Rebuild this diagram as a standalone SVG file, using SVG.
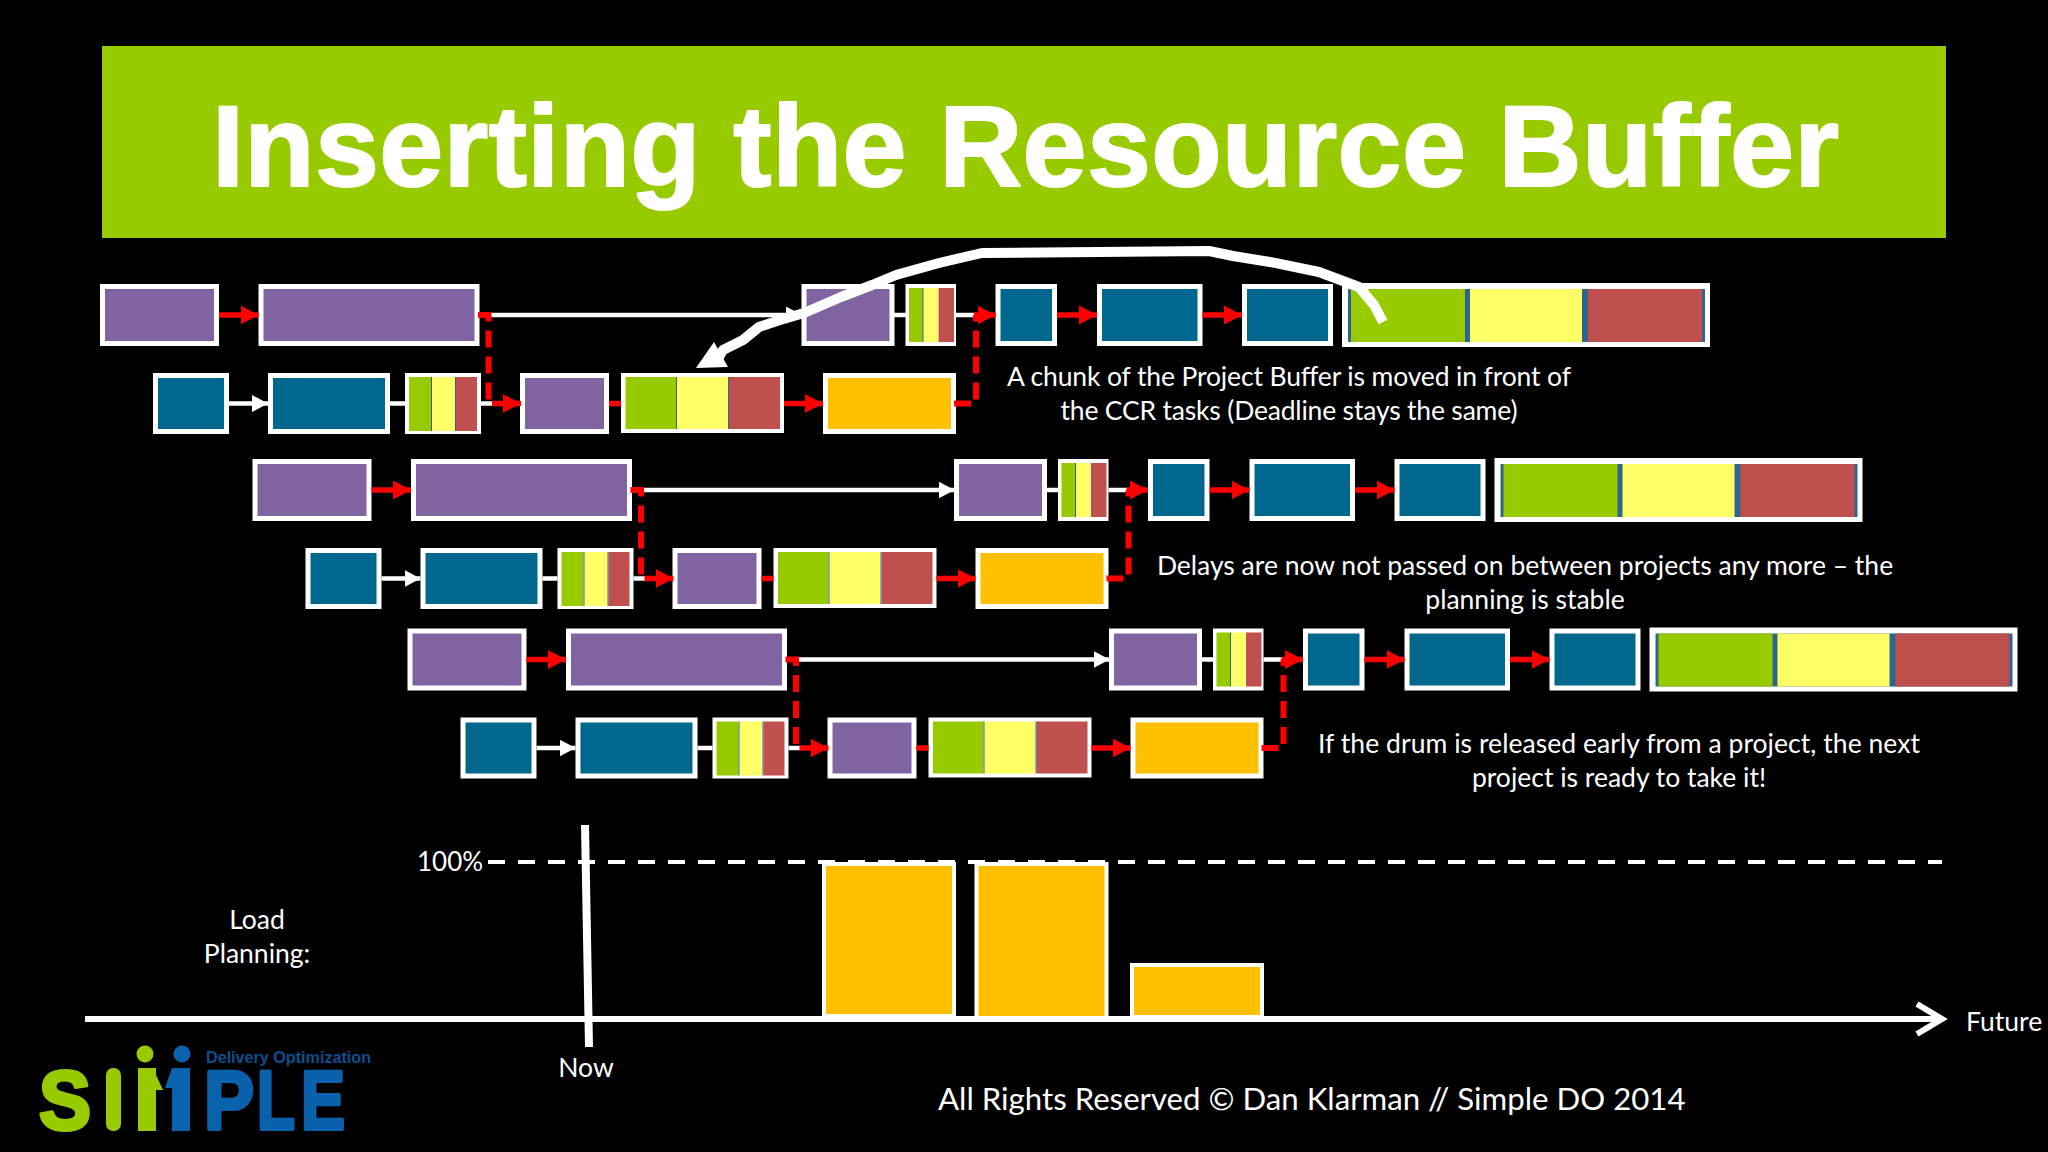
<svg xmlns="http://www.w3.org/2000/svg" width="2048" height="1152" viewBox="0 0 2048 1152">
<style>
.n{stroke:#fff;stroke-width:5}
.bg{fill:#fff}
.pu{fill:#8064A2}.te{fill:#00678F}.or{fill:#FFC000}
.gr{fill:#97CB00}.ye{fill:#FFFF66}.re{fill:#C0504D}.dv{fill:#2F6690}
.t{font-family:Lato,"Liberation Sans",sans-serif;font-size:26.500px;fill:#fff}
.m{text-anchor:middle}
.w{stroke:#fff;stroke-width:4.500;fill:none}
.r{stroke:#FF0000;stroke-width:5.500;fill:none}
.d{stroke:#FF0000;stroke-width:6;fill:none;stroke-dasharray:17 9}
.lg{font-family:"Liberation Sans",sans-serif;font-weight:700;font-size:84px;stroke-width:4;stroke-linejoin:round}
.g{fill:#97CB00;stroke:#97CB00}
.b{fill:#0A62AC;stroke:#0A62AC}
</style>
<defs>
<marker id="rh" markerUnits="userSpaceOnUse" viewBox="0 0 18 19" refX="18" refY="9.500" markerWidth="18" markerHeight="19" orient="auto"><path d="M0 0L18 9.500L0 19Z" fill="#FF0000"/></marker>
<marker id="wh" markerUnits="userSpaceOnUse" viewBox="0 0 16 17" refX="16" refY="8.500" markerWidth="16" markerHeight="17" orient="auto"><path d="M0 0L16 8.500L0 17Z" fill="#fff"/></marker>
</defs>
<rect width="2048" height="1152" fill="#000"/>
<g id="title"><rect x="102" y="46" width="1844" height="192" fill="#97CB00"/>
<text x="212" y="186" textLength="1627" lengthAdjust="spacing" font-family="'Liberation Sans',sans-serif" font-weight="700" font-size="115" fill="#fff" stroke="#fff" stroke-width="2" stroke-linejoin="round">Inserting the Resource Buffer</text></g>

<g id="nodes">
<g id="p1-a"><rect class="n pu" x="102.500" y="286.500" width="114" height="57"/></g>
<g id="p1-b"><rect class="n pu" x="261" y="286.500" width="216" height="57"/></g>
<g id="p1-c"><rect class="n pu" x="804" y="286.500" width="88" height="57"/></g>
<g id="p1-d"><rect class="bg" x="905.500" y="284" width="50.500" height="62"/><rect class="gr" x="909" y="288" width="14" height="54"/><rect class="ye" x="923.500" y="288" width="14.500" height="54"/><rect class="re" x="938.500" y="288" width="15.500" height="54"/><rect class="dv" x="922.500" y="288" width="1" height="54"/></g>
<g id="p1-e"><rect class="n te" x="998" y="286.500" width="56.500" height="57"/></g>
<g id="p1-f"><rect class="n te" x="1099.500" y="286.500" width="100.500" height="57"/></g>
<g id="p1-g"><rect class="n te" x="1244.500" y="286.500" width="86" height="57"/></g>
<g id="p1-h"><rect class="bg" x="1342" y="283" width="368" height="64"/><rect class="dv" x="1348" y="289" width="357" height="53"/><rect class="gr" x="1351" y="289" width="114" height="53"/><rect class="ye" x="1470" y="289" width="112" height="53"/><rect class="re" x="1588" y="289" width="114" height="53"/></g>
<g id="p1-i"><rect class="n te" x="155.500" y="375.500" width="71" height="56"/></g>
<g id="p1-j"><rect class="n te" x="270.500" y="375.500" width="117" height="56"/></g>
<g id="p1-k"><rect class="bg" x="405" y="373" width="76" height="61"/><rect class="gr" x="409" y="377" width="22" height="54"/><rect class="ye" x="432" y="377" width="23" height="54"/><rect class="re" x="456" y="377" width="21" height="54"/><rect class="dv" x="431" y="377" width="1" height="54"/><rect class="dv" x="455" y="377" width="1" height="54"/></g>
<g id="p1-l"><rect class="n pu" x="522.500" y="375.500" width="84" height="56"/></g>
<g id="p1-m"><rect class="bg" x="621" y="373" width="163" height="60"/><rect class="gr" x="625.500" y="377" width="50.500" height="52"/><rect class="ye" x="677" y="377" width="51" height="52"/><rect class="re" x="729" y="377" width="51" height="52"/><rect class="dv" x="676" y="377" width="1" height="52"/><rect class="dv" x="728" y="377" width="1" height="52"/></g>
<g id="p1-n"><rect class="n or" x="825.500" y="375.500" width="128" height="56"/></g>

<g id="p2-a" transform="translate(152.500,175)"><rect class="n pu" x="102.500" y="286.500" width="114" height="57"/></g>
<g id="p2-b" transform="translate(152.500,175)"><rect class="n pu" x="261" y="286.500" width="216" height="57"/></g>
<g id="p2-c" transform="translate(152.500,175)"><rect class="n pu" x="804" y="286.500" width="88" height="57"/></g>
<g id="p2-d" transform="translate(152.500,175)"><rect class="bg" x="905.500" y="284" width="50.500" height="62"/><rect class="gr" x="909" y="288" width="14" height="54"/><rect class="ye" x="923.500" y="288" width="14.500" height="54"/><rect class="re" x="938.500" y="288" width="15.500" height="54"/><rect class="dv" x="922.500" y="288" width="1" height="54"/></g>
<g id="p2-e" transform="translate(152.500,175)"><rect class="n te" x="998" y="286.500" width="56.500" height="57"/></g>
<g id="p2-f" transform="translate(152.500,175)"><rect class="n te" x="1099.500" y="286.500" width="100.500" height="57"/></g>
<g id="p2-g" transform="translate(152.500,175)"><rect class="n te" x="1244.500" y="286.500" width="86" height="57"/></g>
<g id="p2-h" transform="translate(152.500,175)"><rect class="bg" x="1342" y="283" width="368" height="64"/><rect class="dv" x="1348" y="289" width="357" height="53"/><rect class="gr" x="1351" y="289" width="114" height="53"/><rect class="ye" x="1470" y="289" width="112" height="53"/><rect class="re" x="1588" y="289" width="114" height="53"/></g>
<g id="p2-i" transform="translate(152.500,175)"><rect class="n te" x="155.500" y="375.500" width="71" height="56"/></g>
<g id="p2-j" transform="translate(152.500,175)"><rect class="n te" x="270.500" y="375.500" width="117" height="56"/></g>
<g id="p2-k" transform="translate(152.500,175)"><rect class="bg" x="405" y="373" width="76" height="61"/><rect class="gr" x="409" y="377" width="22" height="54"/><rect class="ye" x="432" y="377" width="23" height="54"/><rect class="re" x="456" y="377" width="21" height="54"/><rect class="dv" x="431" y="377" width="1" height="54"/><rect class="dv" x="455" y="377" width="1" height="54"/></g>
<g id="p2-l" transform="translate(152.500,175)"><rect class="n pu" x="522.500" y="375.500" width="84" height="56"/></g>
<g id="p2-m" transform="translate(152.500,175)"><rect class="bg" x="621" y="373" width="163" height="60"/><rect class="gr" x="625.500" y="377" width="50.500" height="52"/><rect class="ye" x="677" y="377" width="51" height="52"/><rect class="re" x="729" y="377" width="51" height="52"/><rect class="dv" x="676" y="377" width="1" height="52"/><rect class="dv" x="728" y="377" width="1" height="52"/></g>
<g id="p2-n" transform="translate(152.500,175)"><rect class="n or" x="825.500" y="375.500" width="128" height="56"/></g>

<g id="p3-a" transform="translate(307.500,344.500)"><rect class="n pu" x="102.500" y="286.500" width="114" height="57"/></g>
<g id="p3-b" transform="translate(307.500,344.500)"><rect class="n pu" x="261" y="286.500" width="216" height="57"/></g>
<g id="p3-c" transform="translate(307.500,344.500)"><rect class="n pu" x="804" y="286.500" width="88" height="57"/></g>
<g id="p3-d" transform="translate(307.500,344.500)"><rect class="bg" x="905.500" y="284" width="50.500" height="62"/><rect class="gr" x="909" y="288" width="14" height="54"/><rect class="ye" x="923.500" y="288" width="14.500" height="54"/><rect class="re" x="938.500" y="288" width="15.500" height="54"/><rect class="dv" x="922.500" y="288" width="1" height="54"/></g>
<g id="p3-e" transform="translate(307.500,344.500)"><rect class="n te" x="998" y="286.500" width="56.500" height="57"/></g>
<g id="p3-f" transform="translate(307.500,344.500)"><rect class="n te" x="1099.500" y="286.500" width="100.500" height="57"/></g>
<g id="p3-g" transform="translate(307.500,344.500)"><rect class="n te" x="1244.500" y="286.500" width="86" height="57"/></g>
<g id="p3-h" transform="translate(307.500,344.500)"><rect class="bg" x="1342" y="283" width="368" height="64"/><rect class="dv" x="1348" y="289" width="357" height="53"/><rect class="gr" x="1351" y="289" width="114" height="53"/><rect class="ye" x="1470" y="289" width="112" height="53"/><rect class="re" x="1588" y="289" width="114" height="53"/></g>
<g id="p3-i" transform="translate(307.500,344.500)"><rect class="n te" x="155.500" y="375.500" width="71" height="56"/></g>
<g id="p3-j" transform="translate(307.500,344.500)"><rect class="n te" x="270.500" y="375.500" width="117" height="56"/></g>
<g id="p3-k" transform="translate(307.500,344.500)"><rect class="bg" x="405" y="373" width="76" height="61"/><rect class="gr" x="409" y="377" width="22" height="54"/><rect class="ye" x="432" y="377" width="23" height="54"/><rect class="re" x="456" y="377" width="21" height="54"/><rect class="dv" x="431" y="377" width="1" height="54"/><rect class="dv" x="455" y="377" width="1" height="54"/></g>
<g id="p3-l" transform="translate(307.500,344.500)"><rect class="n pu" x="522.500" y="375.500" width="84" height="56"/></g>
<g id="p3-m" transform="translate(307.500,344.500)"><rect class="bg" x="621" y="373" width="163" height="60"/><rect class="gr" x="625.500" y="377" width="50.500" height="52"/><rect class="ye" x="677" y="377" width="51" height="52"/><rect class="re" x="729" y="377" width="51" height="52"/><rect class="dv" x="676" y="377" width="1" height="52"/><rect class="dv" x="728" y="377" width="1" height="52"/></g>
<g id="p3-n" transform="translate(307.500,344.500)"><rect class="n or" x="825.500" y="375.500" width="128" height="56"/></g>
</g>

<g id="connectors">
<g id="c1">
<path class="r" d="M219 315H258.500" marker-end="url(#rh)"/>
<path class="w" d="M480 315H802" marker-end="url(#wh)"/>
<path class="w" d="M894 315H906M956 315H976M390 403.500H405M481 403.500H495"/>
<path class="w" d="M229 403.500H268" marker-end="url(#wh)"/>
<path class="r" d="M609 403.500H621"/>
<path class="r" d="M784 403.500H823" marker-end="url(#rh)"/>
<path class="r" d="M1057 315H1097" marker-end="url(#rh)"/>
<path class="r" d="M1202.500 315H1242" marker-end="url(#rh)"/>
<path class="d" d="M478 315H488.500V402"/>
<path class="r" d="M492 403.500H521" marker-end="url(#rh)"/>
<path class="d" d="M954 403.500H976V315"/>
<path class="r" d="M974 315H995.500" marker-end="url(#rh)"/>
</g>
<g id="c2" transform="translate(152.500,175)">
<path class="r" d="M219 315H258.500" marker-end="url(#rh)"/>
<path class="w" d="M480 315H802" marker-end="url(#wh)"/>
<path class="w" d="M894 315H906M956 315H976M390 403.500H405M481 403.500H495"/>
<path class="w" d="M229 403.500H268" marker-end="url(#wh)"/>
<path class="r" d="M609 403.500H621"/>
<path class="r" d="M784 403.500H823" marker-end="url(#rh)"/>
<path class="r" d="M1057 315H1097" marker-end="url(#rh)"/>
<path class="r" d="M1202.500 315H1242" marker-end="url(#rh)"/>
<path class="d" d="M478 315H488.500V402"/>
<path class="r" d="M492 403.500H521" marker-end="url(#rh)"/>
<path class="d" d="M954 403.500H976V315"/>
<path class="r" d="M974 315H995.500" marker-end="url(#rh)"/>
</g>
<g id="c3" transform="translate(307.500,344.500)">
<path class="r" d="M219 315H258.500" marker-end="url(#rh)"/>
<path class="w" d="M480 315H802" marker-end="url(#wh)"/>
<path class="w" d="M894 315H906M956 315H976M390 403.500H405M481 403.500H495"/>
<path class="w" d="M229 403.500H268" marker-end="url(#wh)"/>
<path class="r" d="M609 403.500H621"/>
<path class="r" d="M784 403.500H823" marker-end="url(#rh)"/>
<path class="r" d="M1057 315H1097" marker-end="url(#rh)"/>
<path class="r" d="M1202.500 315H1242" marker-end="url(#rh)"/>
<path class="d" d="M478 315H488.500V402"/>
<path class="r" d="M492 403.500H521" marker-end="url(#rh)"/>
<path class="d" d="M954 403.500H976V315"/>
<path class="r" d="M974 315H995.500" marker-end="url(#rh)"/>
</g>
<g id="move-arrow">
<path d="M1383 322L1374 305L1359 287L1319 272L1270 262L1233 256L1209 251L982 253L939 263L896 275L872 285L841 297L804 313L780 320L759 327L743 340L723 350L716 362" fill="none" stroke="#fff" stroke-width="10" stroke-linejoin="round"/>
<path d="M696 368L714 342L728 367Z" fill="#fff"/>
</g>
</g>

<g id="load">
<path d="M488 862H1942" stroke="#fff" stroke-width="4" stroke-dasharray="17 13" fill="none"/>
<rect class="n or" x="824" y="864" width="130" height="152" style="stroke-width:4"/>
<rect class="n or" x="976.500" y="864" width="130" height="154" style="stroke-width:4"/>
<rect class="n or" x="1132" y="965" width="130" height="52" style="stroke-width:4"/>
<path d="M85 1019H1942" stroke="#fff" stroke-width="6" fill="none"/>
<path d="M1917 1004L1942 1019L1917 1034" stroke="#fff" stroke-width="6" fill="none"/>
<path d="M585 825L589 1047" stroke="#fff" stroke-width="8" fill="none"/>
</g>

<g id="labels">
<text class="t m" x="1289" y="386" textLength="564">A chunk of the Project Buffer is moved in front of</text>
<text class="t m" x="1289" y="420" textLength="457">the CCR tasks (Deadline stays the same)</text>
<text class="t m" x="1525" y="575">Delays are now not passed on between projects any more – the</text>
<text class="t m" x="1525" y="609">planning is stable</text>
<text class="t m" x="1619" y="753" textLength="602">If the drum is released early from a project, the next</text>
<text class="t m" x="1619" y="787">project is ready to take it!</text>
<text class="t m" x="257" y="929">Load</text>
<text class="t m" x="257" y="963">Planning:</text>
<text class="t" x="417" y="871" style="font-size:26px">100%</text>
<text class="t m" x="586" y="1077">Now</text>
<text class="t" x="1966" y="1031">Future</text>
<text class="t" x="938" y="1110" style="font-size:31.200px">All Rights Reserved © Dan Klarman // Simple DO 2014</text>
</g>

<g id="logo">
<circle cx="145" cy="1054" r="8.500" fill="#97CB00"/>
<circle cx="182" cy="1054" r="8.500" fill="#0A62AC"/>
<text class="lg g" x="39" y="1129" textLength="52" lengthAdjust="spacingAndGlyphs">S</text>
<rect x="106" y="1068" width="15" height="63" rx="7" fill="#97CB00"/>
<path d="M138 1068H156V1131H138ZM156 1075L163 1090H156Z" fill="#97CB00"/>
<path d="M172 1068H190V1131H172V1088L165 1088Z" fill="#0A62AC"/>
<text class="lg b" x="204" y="1129" textLength="50" lengthAdjust="spacingAndGlyphs">P</text>
<text class="lg b" x="257" y="1129" textLength="38" lengthAdjust="spacingAndGlyphs">L</text>
<text class="lg b" x="301" y="1129" textLength="44" lengthAdjust="spacingAndGlyphs">E</text>
<text x="206" y="1063" textLength="165" lengthAdjust="spacingAndGlyphs" font-family="'Liberation Sans',sans-serif" font-size="16" font-weight="700" fill="#0A4F8F">Delivery Optimization</text>
</g>
</svg>
